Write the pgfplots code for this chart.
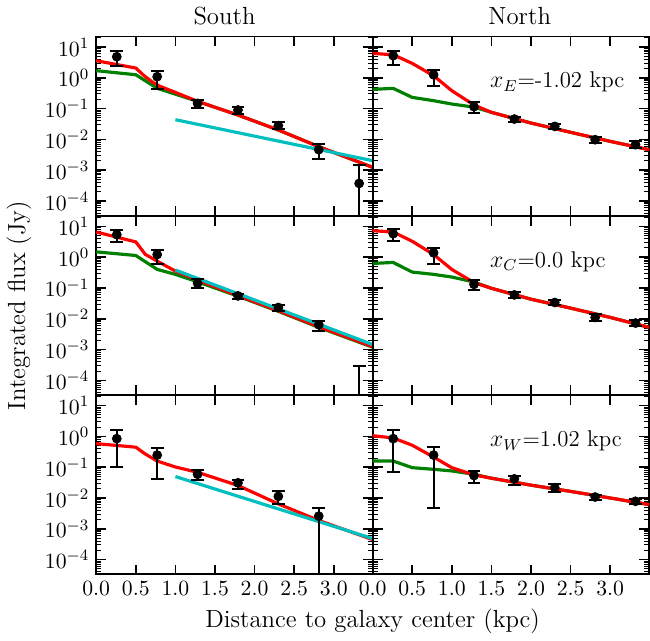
\documentclass[border=0pt]{standalone}
\usepackage{pgfplots}
\pgfplotsset{compat=1.18}
\usepgfplotslibrary{groupplots}
\definecolor{mred}{rgb}{1,0,0}
\definecolor{mgreen}{rgb}{0,0.5,0}
\definecolor{mcyan}{rgb}{0,0.75,0.75}
\tikzset{ann/.style={anchor=west, font=\fontsize{11.5}{13}\selectfont}}
\pgfplotsset{
  panel/.style={
    width=139.5pt, height=90.5pt, scale only axis,
    xmin=0, xmax=3.49, ymode=log, ymin=3.3e-5, ymax=22,
    xtick={0,0.5,1.0,1.5,2.0,2.5,3.0},
    ytick={1e-4,1e-3,1e-2,1e-1,1,10},
    minor ytick={4e-5,5e-5,6e-5,7e-5,8e-5,9e-5,
      2e-4,3e-4,4e-4,5e-4,6e-4,7e-4,8e-4,9e-4,
      2e-3,3e-3,4e-3,5e-3,6e-3,7e-3,8e-3,9e-3,
      2e-2,3e-2,4e-2,5e-2,6e-2,7e-2,8e-2,9e-2,
      0.2,0.3,0.4,0.5,0.6,0.7,0.8,0.9,
      2,3,4,5,6,7,8,9,20},
    xticklabel style={/pgf/number format/.cd, fixed, fixed zerofill, precision=1},
    tick label style={font=\fontsize{10.8}{12}\selectfont},
    label style={font=\fontsize{12.5}{14}\selectfont},
    title style={font=\fontsize{12.5}{14}\selectfont, yshift=-3.5pt},
    major tick length=5pt, minor tick length=2.5pt,
    every tick/.style={black, line width=0.8pt},
    every minor tick/.style={black, line width=0.5pt},
    axis line style={line width=1pt},
    clip marker paths=true,
    unbounded coords=jump,
  },
  model/.style={line width=1.6pt},
  ebar/.style={black, line width=1pt},
  ecap/.style={black, only marks, mark=-, mark size=3.25pt, mark options={line width=1pt}},
  obs/.style={black, only marks, mark=*, mark size=2.25pt},
}
% observed points: x, value, lower and upper end of the error bar
\pgfplotstableread{
x y lo hi
0.26 4.85 2.48 7.23
0.77 1.09 0.433 1.62
1.28 0.148 0.107 0.195
1.79 0.0902 0.0652 0.113
2.30 0.0279 0.0212 0.0367
2.81 0.00465 0.00231 0.0071
3.32 0.000372 1e-7 0.00151
}\tTL
\pgfplotstableread{
x y lo hi
0.26 5.24 2.67 7.59
0.77 1.26 0.556 1.84
1.28 0.1156 0.0703 0.160
1.79 0.0459 0.0377 0.0547
2.30 0.0265 0.0219 0.0316
2.81 0.00979 0.00783 0.0123
3.32 0.00676 0.00525 0.00871
}\tTR
\pgfplotstableread{
x y lo hi
0.26 5.38 3.13 7.80
0.77 1.22 0.610 1.77
1.28 0.1416 0.0975 0.200
1.79 0.0552 0.0431 0.0656
2.30 0.0232 0.0181 0.0283
2.81 0.0064 0.0039 0.00861
3.32 1e-6 1e-7 0.000283
}\tML
\pgfplotstableread{
x y lo hi
0.26 5.79 3.28 8.20
0.77 1.38 0.610 2.00
1.28 0.131 0.0841 0.186
1.79 0.0594 0.0488 0.0743
2.30 0.0337 0.0276 0.0400
2.81 0.01104 0.00861 0.01377
3.32 0.00724 0.00581 0.00906
}\tMR
\pgfplotstableread{
x y lo hi
0.26 0.849 0.1019 1.574
0.77 0.248 0.0431 0.426
1.28 0.0593 0.0390 0.0796
1.79 0.0312 0.01954 0.0399
2.30 0.01135 0.00628 0.01644
2.81 0.00259 1e-7 0.00479
}\tBL
\pgfplotstableread{
x y lo hi
0.26 0.849 0.0721 1.574
0.77 0.248 0.00491 0.458
1.28 0.0537 0.0312 0.0776
1.79 0.0420 0.0256 0.0537
2.30 0.0216 0.01563 0.0276
2.81 0.01081 0.00887 0.01285
3.32 0.00785 0.00661 0.00933
}\tBR
\begin{document}
\begin{tikzpicture}
\begin{groupplot}[
  group style={group size=2 by 3, horizontal sep=0pt, vertical sep=0pt,
    xticklabels at=edge bottom, yticklabels at=edge left},
  panel]
% ---------------- top left: South, x_E
\nextgroupplot[title={South}, title style={xshift=-5pt}]
\addplot[model, mgreen] coordinates {(0,1.71) (0.5,1.26) (0.77,0.457) (1.0,0.295) (1.28,0.172) (1.79,0.0619) (2.30,0.0202) (2.81,0.00581) (3.49,0.00124)};
\addplot[model, mred] coordinates {(0,3.60) (0.5,2.08) (0.6,1.20) (0.7,0.759) (0.8,0.537) (1.0,0.337) (1.28,0.172) (1.79,0.0619) (2.30,0.0202) (2.81,0.00581) (3.49,0.00124)};
\addplot[model, mcyan] coordinates {(1.0,0.0437) (3.49,0.00204)};
\addplot[ebar] coordinates {(0.26,2.48) (0.26,7.23) (0.26,nan) (0.77,0.433) (0.77,1.62) (0.77,nan) (1.28,0.107) (1.28,0.195) (1.28,nan) (1.79,0.0652) (1.79,0.113) (1.79,nan) (2.30,0.0212) (2.30,0.0367) (2.30,nan) (2.81,0.00231) (2.81,0.0071) (2.81,nan) (3.32,1e-7) (3.32,0.00151)};
\addplot[ecap] table[x=x, y=lo] {\tTL};
\addplot[ecap] table[x=x, y=hi] {\tTL};
\addplot[obs] table[x=x, y=y] {\tTL};
% ---------------- top right: North, x_E
\nextgroupplot[title={North}, title style={xshift=4.5pt}]
\addplot[model, mgreen] coordinates {(0,0.423) (0.26,0.455) (0.5,0.232) (0.77,0.181) (1.0,0.141) (1.28,0.112) (1.5,0.0759) (2.0,0.0340) (2.5,0.0170) (3.0,0.00865) (3.49,0.00465)};
\addplot[model, mred] coordinates {(0,6.22) (0.26,5.62) (0.5,2.95) (0.77,1.17) (1.0,0.382) (1.28,0.131) (1.5,0.0759) (2.0,0.0340) (2.5,0.0170) (3.0,0.00865) (3.49,0.00465)};
\addplot[ebar] coordinates {(0.26,2.67) (0.26,7.59) (0.26,nan) (0.77,0.556) (0.77,1.84) (0.77,nan) (1.28,0.0703) (1.28,0.160) (1.28,nan) (1.79,0.0377) (1.79,0.0547) (1.79,nan) (2.30,0.0219) (2.30,0.0316) (2.30,nan) (2.81,0.00783) (2.81,0.0123) (2.81,nan) (3.32,0.00525) (3.32,0.00871)};
\addplot[ecap] table[x=x, y=lo] {\tTR};
\addplot[ecap] table[x=x, y=hi] {\tTR};
\addplot[obs] table[x=x, y=y] {\tTR};
\node[ann] at (rel axis cs:0.40,0.745) {$x_E$=-1.02 kpc};
% ---------------- middle left: South, x_C
\nextgroupplot[ylabel={Integrated flux (Jy)}]
\addplot[model, mgreen] coordinates {(0,1.486) (0.5,1.132) (0.77,0.400) (1.0,0.276) (1.28,0.158) (1.79,0.0540) (2.30,0.0174) (2.81,0.00525) (3.49,0.00119)};
\addplot[model, mred] coordinates {(0,6.56) (0.5,3.13) (0.62,1.23) (0.77,0.743) (1.0,0.353) (1.28,0.182) (1.79,0.0562) (2.30,0.0182) (2.81,0.00550) (3.49,0.00125)};
\addplot[model, mcyan] coordinates {(1.0,0.381) (3.49,0.00145)};
\addplot[ebar] coordinates {(0.26,3.13) (0.26,7.80) (0.26,nan) (0.77,0.610) (0.77,1.77) (0.77,nan) (1.28,0.0975) (1.28,0.200) (1.28,nan) (1.79,0.0431) (1.79,0.0656) (1.79,nan) (2.30,0.0181) (2.30,0.0283) (2.30,nan) (2.81,0.0039) (2.81,0.00861) (2.81,nan) (3.32,1e-7) (3.32,0.000283)};
\addplot[ecap] table[x=x, y=lo] {\tML};
\addplot[ecap] table[x=x, y=hi] {\tML};
\addplot[obs] table[x=x, y=y] {\tML};
% ---------------- middle right: North, x_C
\nextgroupplot
\addplot[model, mgreen] coordinates {(0,0.625) (0.26,0.673) (0.5,0.328) (0.77,0.276) (1.0,0.226) (1.28,0.156) (1.5,0.0975) (2.0,0.0431) (2.5,0.0221) (3.0,0.01104) (3.49,0.00525)};
\addplot[model, mred] coordinates {(0,7.24) (0.26,6.56) (0.5,3.28) (0.77,1.22) (1.0,0.400) (1.28,0.1486) (1.5,0.0975) (2.0,0.0431) (2.5,0.0221) (3.0,0.01104) (3.49,0.00525)};
\addplot[ebar] coordinates {(0.26,3.28) (0.26,8.20) (0.26,nan) (0.77,0.610) (0.77,2.00) (0.77,nan) (1.28,0.0841) (1.28,0.186) (1.28,nan) (1.79,0.0488) (1.79,0.0743) (1.79,nan) (2.30,0.0276) (2.30,0.0400) (2.30,nan) (2.81,0.00861) (2.81,0.01377) (2.81,nan) (3.32,0.00581) (3.32,0.00906)};
\addplot[ecap] table[x=x, y=lo] {\tMR};
\addplot[ecap] table[x=x, y=hi] {\tMR};
\addplot[obs] table[x=x, y=y] {\tMR};
\node[ann] at (rel axis cs:0.40,0.745) {$x_C$=0.0 kpc};
% ---------------- bottom left: South, x_W
\nextgroupplot[xlabel={Distance to galaxy center (kpc)},
  xlabel style={at={(ticklabel cs:1)}, anchor=north}]
\addplot[model, mred] coordinates {(0,0.587) (0.5,0.448) (0.62,0.269) (0.77,0.159) (1.0,0.102) (1.28,0.0687) (1.79,0.0256) (2.30,0.00644) (2.81,0.00187) (3.49,0.000449)};
\addplot[model, mcyan] coordinates {(1.0,0.0499) (3.49,0.000484)};
\addplot[ebar] coordinates {(0.26,0.1019) (0.26,1.574) (0.26,nan) (0.77,0.0431) (0.77,0.426) (0.77,nan) (1.28,0.0390) (1.28,0.0796) (1.28,nan) (1.79,0.01954) (1.79,0.0399) (1.79,nan) (2.30,0.00628) (2.30,0.01644) (2.30,nan) (2.81,1e-7) (2.81,0.00479)};
\addplot[ecap] table[x=x, y=lo] {\tBL};
\addplot[ecap] table[x=x, y=hi] {\tBL};
\addplot[obs] table[x=x, y=y] {\tBL};
% ---------------- bottom right: North, x_W
\nextgroupplot
\addplot[model, mgreen] coordinates {(0,0.159) (0.26,0.159) (0.5,0.0970) (0.77,0.0857) (1.0,0.0759) (1.28,0.0593) (1.5,0.0441) (2.0,0.0262) (2.5,0.01644) (3.0,0.01005) (3.49,0.00614)};
\addplot[model, mred] coordinates {(0,1.062) (0.26,0.893) (0.5,0.519) (0.77,0.214) (1.0,0.0970) (1.28,0.0564) (1.5,0.0441) (2.0,0.0262) (2.5,0.01644) (3.0,0.01005) (3.49,0.00614)};
\addplot[ebar] coordinates {(0.26,0.0721) (0.26,1.574) (0.26,nan) (0.77,0.00491) (0.77,0.458) (0.77,nan) (1.28,0.0312) (1.28,0.0776) (1.28,nan) (1.79,0.0256) (1.79,0.0537) (1.79,nan) (2.30,0.01563) (2.30,0.0276) (2.30,nan) (2.81,0.00887) (2.81,0.01285) (2.81,nan) (3.32,0.00661) (3.32,0.00933)};
\addplot[ecap] table[x=x, y=lo] {\tBR};
\addplot[ecap] table[x=x, y=hi] {\tBR};
\addplot[obs] table[x=x, y=y] {\tBR};
\node[ann] at (rel axis cs:0.40,0.745) {$x_W$=1.02 kpc};
\end{groupplot}
\end{tikzpicture}
\end{document}
